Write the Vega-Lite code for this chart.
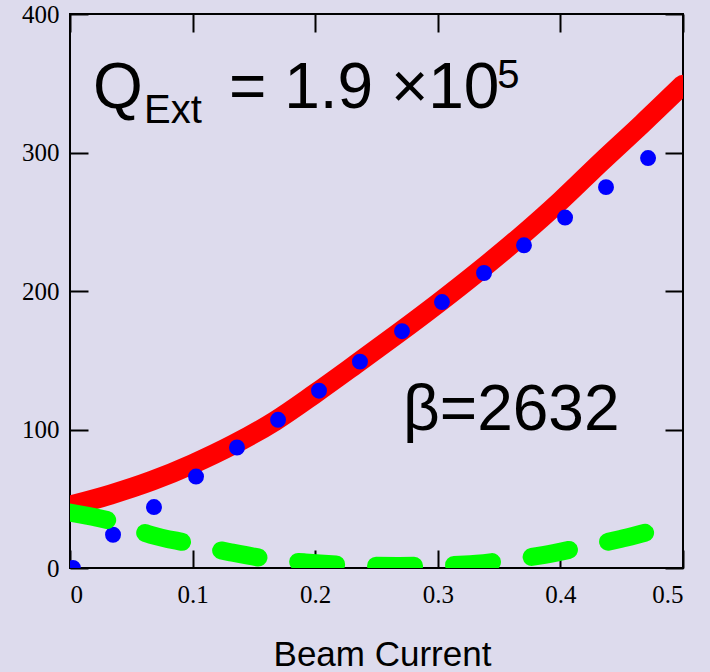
{
  "$schema": "https://vega.github.io/schema/vega-lite/v6.json",
  "width": 613,
  "height": 554,
  "autosize": {"type": "none"},
  "padding": {"left": 70, "top": 14, "right": 27, "bottom": 104},
  "background": "#dddbed",
  "config": {
    "view": {"stroke": "#000000", "strokeWidth": 2},
    "axis": {
      "domain": false,
      "grid": false,
      "tickColor": "#000000",
      "tickWidth": 2,
      "tickSize": -18,
      "labelFont": "Liberation Serif",
      "labelFontSize": 25,
      "labelColor": "#000000"
    }
  },
  "datasets": {
    "red": [
      {"x": 0, "y": 45}, {"x": 0.033, "y": 53}, {"x": 0.067, "y": 63}, {"x": 0.1, "y": 75},
      {"x": 0.133, "y": 89}, {"x": 0.167, "y": 106}, {"x": 0.2, "y": 126}, {"x": 0.233, "y": 147},
      {"x": 0.267, "y": 169}, {"x": 0.3, "y": 191}, {"x": 0.333, "y": 214}, {"x": 0.367, "y": 239},
      {"x": 0.4, "y": 265}, {"x": 0.433, "y": 293}, {"x": 0.467, "y": 321}, {"x": 0.5, "y": 349}
    ],
    "blue": [
      {"x": 0.0024, "y": 0}, {"x": 0.0351, "y": 24}, {"x": 0.0685, "y": 44}, {"x": 0.1028, "y": 66},
      {"x": 0.1362, "y": 87}, {"x": 0.1697, "y": 107}, {"x": 0.2031, "y": 128}, {"x": 0.2365, "y": 149},
      {"x": 0.2708, "y": 171}, {"x": 0.3034, "y": 192}, {"x": 0.3377, "y": 213}, {"x": 0.3703, "y": 233},
      {"x": 0.4038, "y": 253}, {"x": 0.4372, "y": 275}, {"x": 0.4715, "y": 296}
    ],
    "green": [
      {"x": 0, "y": 40}, {"x": 0.039, "y": 32.5}, {"x": 0.066, "y": 24}, {"x": 0.096, "y": 18},
      {"x": 0.13, "y": 11.5}, {"x": 0.158, "y": 7}, {"x": 0.192, "y": 4}, {"x": 0.22, "y": 2.5},
      {"x": 0.269, "y": 1.5}, {"x": 0.322, "y": 2.5}, {"x": 0.351, "y": 5}, {"x": 0.387, "y": 9.5},
      {"x": 0.412, "y": 14}, {"x": 0.449, "y": 21}, {"x": 0.477, "y": 27}, {"x": 0.5, "y": 31}
    ]
  },
  "layer": [
    {
      "data": {"name": "red"},
      "mark": {"type": "line", "color": "#ff0000", "strokeWidth": 20, "strokeCap": "round", "strokeJoin": "round", "interpolate": "monotone", "clip": true},
      "encoding": {
        "x": {"field": "x", "type": "quantitative", "scale": {"domain": [0, 0.5], "nice": false},
          "axis": {"orient": "bottom", "values": [0, 0.1, 0.2, 0.3, 0.4, 0.5], "format": "~g", "labelPadding": 32, "labelDx": 4,
            "title": "Beam Current", "titleFont": "Liberation Sans", "titleFontSize": 35, "titleFontWeight": "normal", "titleColor": "#000000",
            "titleX": 312, "titleY": 97, "titleBaseline": "alphabetic", "titleAlign": "center"}},
        "y": {"field": "y", "type": "quantitative", "scale": {"domain": [0, 400], "nice": false},
          "axis": {"orient": "left", "values": [0, 100, 200, 300, 400], "format": "d", "labelPadding": 29, "labelDy": 3, "title": null}}
      }
    },
    {
      "data": {"name": "blue"},
      "mark": {"type": "point", "filled": true, "color": "#0000ff", "opacity": 1, "size": 254, "strokeWidth": 0, "clip": true},
      "encoding": {
        "x": {"field": "x", "type": "quantitative", "scale": {"domain": [0, 0.5], "nice": false}, "axis": null},
        "y": {"field": "y", "type": "quantitative", "scale": {"domain": [0, 400], "nice": false}, "axis": null}
      }
    },
    {
      "data": {"name": "green"},
      "mark": {"type": "line", "color": "#00ff00", "strokeWidth": 18, "strokeCap": "round", "strokeJoin": "round", "strokeDash": [38, 40], "interpolate": "monotone", "clip": true},
      "encoding": {
        "x": {"field": "x", "type": "quantitative", "scale": {"domain": [0, 0.5], "nice": false}, "axis": null},
        "y": {"field": "y", "type": "quantitative", "scale": {"domain": [0, 400], "nice": false}, "axis": null}
      }
    },
    {
      "data": {"name": "blue"},
      "mark": {"type": "point", "opacity": 0},
      "encoding": {
        "x": {"field": "x", "type": "quantitative", "scale": {"domain": [0, 0.5], "nice": false},
          "axis": {"orient": "top", "values": [0, 0.1, 0.2, 0.3, 0.4, 0.5], "labels": false, "title": null}},
        "y": {"field": "y", "type": "quantitative", "scale": {"domain": [0, 400], "nice": false},
          "axis": {"orient": "right", "values": [0, 100, 200, 300, 400], "labels": false, "title": null}}
      }
    },
    {
      "data": {"values": [{"x": 0.0188, "y": 332, "label": "Q"}, {"x": 0.2716, "y": 99.6, "label": "β=2632"}]},
      "mark": {"type": "text", "font": "Liberation Sans", "fontSize": 64, "align": "left", "baseline": "alphabetic", "color": "#000000"},
      "encoding": {
        "x": {"field": "x", "type": "quantitative", "scale": {"domain": [0, 0.5], "nice": false}, "axis": null},
        "y": {"field": "y", "type": "quantitative", "scale": {"domain": [0, 400], "nice": false}, "axis": null},
        "text": {"field": "label"}
      }
    },
    {
      "data": {"values": [{"x": 0.3503, "y": 332, "label": "= 1.9 ×10"}]},
      "mark": {"type": "text", "font": "Liberation Sans", "fontSize": 64, "align": "right", "baseline": "alphabetic", "color": "#000000"},
      "encoding": {
        "x": {"field": "x", "type": "quantitative", "scale": {"domain": [0, 0.5], "nice": false}, "axis": null},
        "y": {"field": "y", "type": "quantitative", "scale": {"domain": [0, 400], "nice": false}, "axis": null},
        "text": {"field": "label"}
      }
    },
    {
      "data": {"values": [{"x": 0.0604, "y": 321.3, "label": "Ext"}, {"x": 0.3485, "y": 346.6, "label": "5"}]},
      "mark": {"type": "text", "font": "Liberation Sans", "fontSize": 40, "align": "left", "baseline": "alphabetic", "color": "#000000"},
      "encoding": {
        "x": {"field": "x", "type": "quantitative", "scale": {"domain": [0, 0.5], "nice": false}, "axis": null},
        "y": {"field": "y", "type": "quantitative", "scale": {"domain": [0, 400], "nice": false}, "axis": null},
        "text": {"field": "label"}
      }
    }
  ],
  "resolve": {"axis": {"x": "independent", "y": "independent"}}
}
